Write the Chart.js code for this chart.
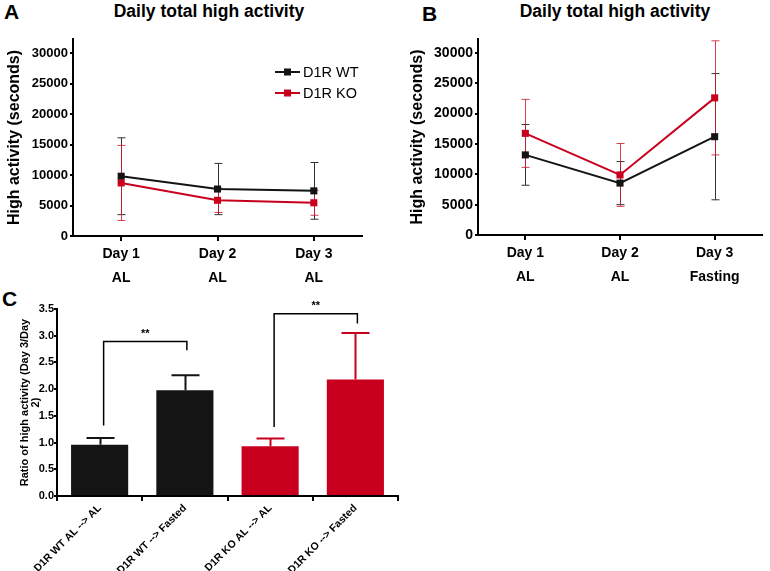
<!DOCTYPE html>
<html>
<head>
<meta charset="utf-8">
<script src="https://cdn.jsdelivr.net/npm/chart.js@4.4.0/dist/chart.umd.min.js"></script>
<style>
  body { margin: 0; background: #fff; width: 770px; height: 571px; position: relative; overflow: hidden;
         font-family: "Liberation Sans", Arial, sans-serif; }
  canvas { position: absolute; }
  .txt { position: absolute; font-weight: bold; color: #000; white-space: nowrap; }
  .title { width: 300px; text-align: center; font-size: 17.5px; }
</style>
</head>
<body>
<div class="txt" style="left:4px; top:0px; font-size:21px;">A</div>
<div class="txt title" style="left:59px; top:1px;">Daily total high activity</div>
<div class="txt" style="left:422px; top:2px; font-size:21px;">B</div>
<div class="txt title" style="left:465px; top:1px;">Daily total high activity</div>
<div class="txt" style="left:2px; top:287px; font-size:21px;">C</div>

<canvas id="chartA" width="385" height="290" style="left:0; top:0;"></canvas>
<canvas id="chartB" width="385" height="290" style="left:385px; top:0;"></canvas>
<canvas id="chartC" width="400" height="281" style="left:0; top:290px;"></canvas>

<script>
// --- datos ---
const daysA = [['Day 1', 'AL'], ['Day 2', 'AL'], ['Day 3', 'AL']];
const daysB = [['Day 1', 'AL'], ['Day 2', 'AL'], ['Day 3', 'Fasting']];
const ticksAB = [0, 5000, 10000, 15000, 20000, 25000, 30000];

// Panel A (media y desviación)
const wtA = [9800, 7700, 7400];
const wtA_sd = [6300, 4200, 4650];
const koA = [8700, 5850, 5450];
const koA_sd = [6150, 2000, 2050];

// Panel B
const wtB = [13200, 8550, 16200];
const wtB_sd = [5000, 3550, 10400];
const koB = [16750, 9900, 22600];
const koB_sd = [5600, 5180, 9400];

// Panel C (cociente día 3 / día 2, con error hacia arriba)
const groupsC = ['D1R WT AL --> AL', 'D1R WT --> Fasted', 'D1R KO AL --> AL', 'D1R KO --> Fasted'];
const ratioC = [0.96, 1.98, 0.93, 2.18];
const ratioC_sem = [0.125, 0.28, 0.145, 0.87];
const ticksC = [0, 0.5, 1, 1.5, 2, 2.5, 3, 3.5];
const bracketsC = [
  { from: 0, to: 1, left: 1.32, top: 2.89, right: 2.73, label: '**' },
  { from: 2, to: 3, left: 1.29, top: 3.41, right: 3.23, label: '**' }
];

const black = '#141414';
const red = '#c8001e';
const redErr = 'rgba(205, 30, 50, 0.85)';
const fam = '"Liberation Sans", Arial, sans-serif';

Chart.defaults.font.family = fam;
Chart.defaults.color = '#000';
Chart.defaults.animation = false;
Chart.defaults.plugins.legend.display = false;
Chart.defaults.plugins.tooltip.enabled = false;

// Barras de error dibujadas con las escalas del gráfico
const errorBars = {
  id: 'errorBars',
  beforeDatasetsDraw(chart) {
    const ctx = chart.ctx;
    const y = chart.scales.y;
    chart.data.datasets.forEach((ds, i) => {
      if (!ds.err) return;
      const meta = chart.getDatasetMeta(i);
      ctx.save();
      ctx.lineWidth = ds.errWidth || 1;
      meta.data.forEach((el, j) => {
        const v = ds.data[j], e = ds.err[j];
        const yt = y.getPixelForValue(v + e);
        const yb = y.getPixelForValue(ds.upOnly ? v : v - e);
        const x = Math.round(el.x) + 0.5;
        ctx.strokeStyle = Array.isArray(ds.errColor) ? ds.errColor[j] : ds.errColor;
        ctx.beginPath();
        ctx.moveTo(x, yb); ctx.lineTo(x, yt);
        ctx.moveTo(x - ds.cap, yt); ctx.lineTo(x + ds.cap, yt);
        if (!ds.upOnly) { ctx.moveTo(x - ds.cap, yb); ctx.lineTo(x + ds.cap, yb); }
        ctx.stroke();
      });
      ctx.restore();
    });
  }
};

// Leyenda con línea + cuadrado
const lineLegend = {
  id: 'lineLegend',
  afterDraw(chart, args, opts) {
    if (!opts.show) return;
    const ctx = chart.ctx;
    ctx.save();
    ctx.font = '14.5px ' + fam;
    ctx.textBaseline = 'middle';
    chart.data.datasets.forEach((ds, i) => {
      const x = opts.x, y = opts.y + i * opts.gap;
      ctx.strokeStyle = ds.borderColor;
      ctx.lineWidth = 2;
      ctx.beginPath(); ctx.moveTo(x, y); ctx.lineTo(x + 25, y); ctx.stroke();
      ctx.fillStyle = ds.borderColor;
      ctx.fillRect(x + 9, y - 3.5, 7, 7);
      ctx.fillStyle = '#000';
      ctx.fillText(ds.label, x + 28, y + 1);
    });
    ctx.restore();
  }
};

// Corchetes de significancia
const brackets = {
  id: 'brackets',
  afterDatasetsDraw(chart, args, opts) {
    const { ctx, scales: { x, y } } = chart;
    ctx.save();
    ctx.strokeStyle = '#000';
    ctx.lineWidth = 1.5;
    ctx.fillStyle = '#000';
    ctx.font = 'bold 11px ' + fam;
    ctx.textAlign = 'center';
    ctx.textBaseline = 'bottom';
    opts.items.forEach(b => {
      const x1 = x.getPixelForValue(b.from) + 4, x2 = x.getPixelForValue(b.to) + 2;
      const yt = y.getPixelForValue(b.top);
      ctx.beginPath();
      ctx.moveTo(x1, y.getPixelForValue(b.left));
      ctx.lineTo(x1, yt);
      ctx.lineTo(x2, yt);
      ctx.lineTo(x2, y.getPixelForValue(b.right));
      ctx.stroke();
      ctx.fillText(b.label, (x1 + x2) / 2, yt - 2);
    });
    ctx.restore();
  }
};

function axisLine(tick) {
  return {
    grid: { display: true, drawOnChartArea: false, drawTicks: true, tickLength: tick, color: '#000', lineWidth: 2 },
    border: { display: true, color: '#000', width: 2 }
  };
}

function lineChart(id, labels, wt, wtSd, ko, koSd, o) {
  return new Chart(document.getElementById(id), {
    type: 'line',
    data: {
      labels: labels,
      datasets: [
        { label: 'D1R WT', data: wt, err: wtSd, errColor: '#333', cap: 4, errWidth: 1,
          borderColor: black, backgroundColor: black, borderWidth: 2, pointStyle: 'rect',
          pointRadius: 5, pointBackgroundColor: black, pointBorderWidth: 0, tension: 0, order: 2 },
        { label: 'D1R KO', data: ko, err: koSd, errColor: redErr, cap: 4, errWidth: 1,
          borderColor: red, backgroundColor: red, borderWidth: 2, pointStyle: 'rect',
          pointRadius: 5, pointBackgroundColor: red, pointBorderWidth: 0, tension: 0, order: 1 }
      ]
    },
    options: {
      responsive: false,
      layout: { padding: { top: 39, right: o.right, left: 0, bottom: 0 } },
      plugins: { lineLegend: o.legend },
      scales: {
        x: Object.assign(axisLine(5), {
          offset: true,
          ticks: { color: '#000', font: { size: 14, weight: 'bold', lineHeight: 1.65 }, padding: 2,
                   maxRotation: 0, autoSkip: false },
          afterFit: s => { s.height = 290 - o.bottom; }
        }),
        y: Object.assign(axisLine(3), {
          min: 0, max: 32300,
          afterBuildTicks: s => { s.ticks = ticksAB.map(v => ({ value: v })); },
          ticks: { color: '#000', font: { size: o.tickSize, weight: 'bold' }, padding: 2,
                   callback: v => String(v) },
          title: { display: true, text: 'High activity (seconds)', color: '#000',
                   font: { size: 16, weight: 'bold' }, padding: { top: o.titlePad, bottom: 0 } },
          afterFit: s => { s.width = o.left; }
        })
      }
    },
    plugins: [errorBars, lineLegend]
  });
}

// --- Panel A ---
lineChart('chartA', daysA, wtA, wtA_sd, koA, koA_sd,
  { left: 73, right: 23, bottom: 236, tickSize: 13, titlePad: 5,
    legend: { show: true, x: 275, y: 72, gap: 21 } });

// --- Panel B ---
lineChart('chartB', daysB, wtB, wtB_sd, koB, koB_sd,
  { left: 93, right: 8, bottom: 235, tickSize: 14, titlePad: 23,
    legend: { show: false } });

// --- Panel C ---
const colorsC = [black, black, red, red];
new Chart(document.getElementById('chartC'), {
  type: 'bar',
  data: {
    labels: groupsC,
    datasets: [{
      data: ratioC, err: ratioC_sem, upOnly: true, cap: 14, errWidth: 2, errColor: colorsC,
      backgroundColor: colorsC, barPercentage: 0.67, categoryPercentage: 1
    }]
  },
  options: {
    responsive: false,
    layout: { padding: { top: 19, right: 2, left: 0, bottom: 0 } },
    plugins: { brackets: { items: bracketsC } },
    scales: {
      x: Object.assign(axisLine(5), {
        ticks: { color: '#000', font: { size: 10.5, weight: 'bold' }, padding: 1,
                 minRotation: 45, maxRotation: 45, autoSkip: false },
        afterFit: s => { s.height = 75; }
      }),
      y: Object.assign(axisLine(3), {
        min: 0, max: 3.5,
        afterBuildTicks: s => { s.ticks = ticksC.map(v => ({ value: v })); },
        ticks: { color: '#000', font: { size: 11, weight: 'bold' }, padding: 0,
                 callback: v => v.toFixed(1) },
        title: { display: true, text: ['Ratio of high activity (Day 3/Day', '2)'], color: '#000',
                 font: { size: 11, weight: 'bold', lineHeight: 1.0 }, padding: { top: 19, bottom: 0 } },
        afterFit: s => { s.width = 57; }
      })
    }
  },
  plugins: [errorBars, brackets]
});
</script>
</body>
</html>
